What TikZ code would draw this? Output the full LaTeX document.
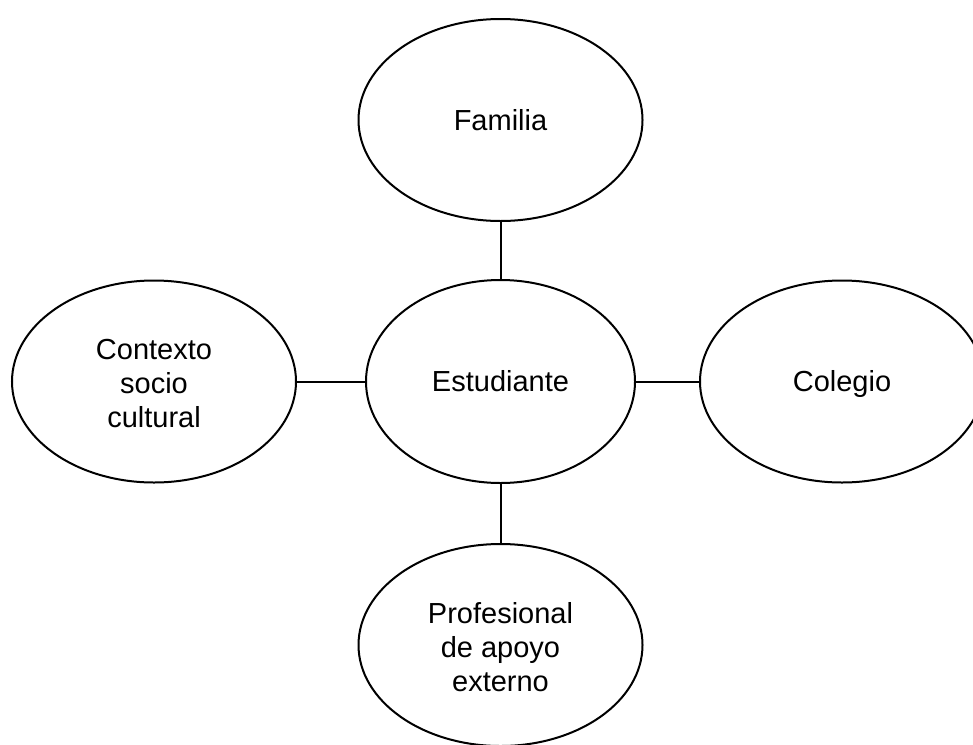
\documentclass[tikz,border=0pt]{standalone}
\usepackage{fontspec}
\setmainfont{Liberation Sans}
\usetikzlibrary{shapes.geometric}
\newcommand\bubblestrut{\rule[-8pt]{0pt}{36pt}}
\newcommand\threelines[3]{\rule{0pt}{67.6pt}\begin{tabular}{@{}c@{}}#1\\#2\\#3\end{tabular}}
\begin{document}
\begin{tikzpicture}[x=1pt,y=1pt,
  bubble/.style={ellipse,draw=black,line width=2pt,fill=white,inner sep=0pt,
    minimum width=284pt,minimum height=202pt,
    font=\fontsize{29}{34}\selectfont,
    execute at begin node=\bubblestrut},
  link/.style={draw=black,line width=2pt}]
\useasboundingbox (0,0) rectangle (973,-744);
\clip (0,0) rectangle (973,-744);
\fill[white] (0,0) rectangle (973,-744);
\node[bubble] (fam) at (500.5,-120) {Familia};
\node[bubble,minimum width=269pt,minimum height=203pt] (est) at (500.5,-381.5) {Estudiante};
\node[bubble] (ctx) at (154,-381.5) {\threelines{Contexto}{socio}{cultural}};
\node[bubble] (col) at (842,-381.5) {Colegio};
\node[bubble] (pro) at (500.5,-645) {\threelines{Profesional}{de apoyo}{externo}};
\draw[link] (fam.south) -- (est.north);
\draw[link] (ctx.east) -- (est.west);
\draw[link] (est.east) -- (col.west);
\draw[link] (est.south) -- (pro.north);
\end{tikzpicture}
\end{document}
